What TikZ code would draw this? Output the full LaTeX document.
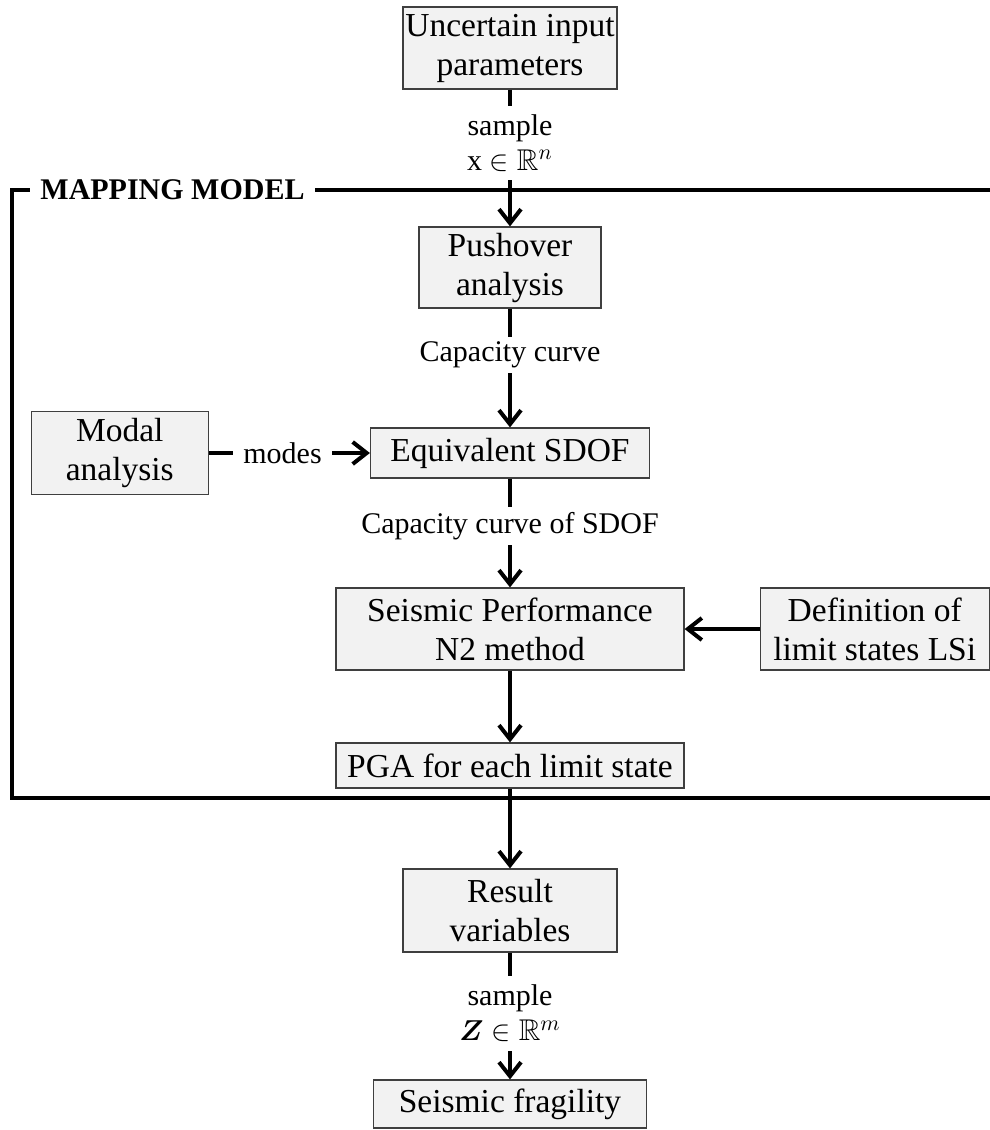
\documentclass[tikz,border=0pt]{standalone}
\usepackage{amsmath,amssymb,bm}
\usepackage{fontspec}
\setmainfont{Liberation Serif}
\definecolor{BoxFill}{HTML}{F2F2F2}
\definecolor{BoxLine}{HTML}{3F3F3F}
\usetikzlibrary{arrows.meta, positioning}
\tikzset{
  % Box styles
  stepbox/.style={rectangle, draw=BoxLine, line width=0.6pt, fill=BoxFill, inner sep=0pt, align=center, font=\fontsize{16.75}{19.5}\selectfont},
  % Label styles
  flowlabel/.style={inner sep=0pt, align=center, font=\fontsize{15}{17.5}\selectfont},
  titlelabel/.style={fill=white, inner xsep=5pt, inner ysep=0pt, font=\fontsize{15}{16}\selectfont\bfseries},
  % Arrow styles
  flowline/.style={line width=2pt, black},
  arrow/.style={flowline, -{Straight Barb[length=7pt, width=11pt]}},
  frameline/.style={line width=2pt, black}
}

\begin{document}
\begin{tikzpicture}[x=0.5pt, y=-0.5pt]
  \useasboundingbox (0,0) rectangle (990,1130);

  % Mapping model frame
  \draw[frameline] (995,190) -- (12,190) -- (12,798) -- (995,798);
  \node[titlelabel] (mmtitle) at (172.5,190) {MAPPING MODEL};

  % Process boxes
  \node[stepbox, minimum width=107pt, minimum height=41pt] (input) at (510,48) {Uncertain input\\parameters};
  \node[stepbox, minimum width=91pt, minimum height=40.5pt] (push) at (510,267.5) {Pushover\\analysis};
  \node[stepbox, minimum width=139.5pt, minimum height=25pt] (sdof) at (510,453) {Equivalent SDOF};
  \node[stepbox, minimum width=88.5pt, minimum height=41.5pt, left=80.5pt of sdof] (modal) {Modal\\analysis};
  \node[stepbox, minimum width=174pt, minimum height=41pt] (perf) at (510,629) {Seismic Performance\\N2 method};
  \node[stepbox, minimum width=114.5pt, minimum height=41pt, right=37.5pt of perf] (limits) {Definition of\\limit states LSi};
  \node[stepbox, minimum width=174pt, minimum height=22.5pt] (pga) at (510,765.5) {PGA for each limit state};
  \node[stepbox, minimum width=107pt, minimum height=41.5pt] (result) at (510,910.5) {Result\\variables};
  \node[stepbox, minimum width=136.5pt, minimum height=24pt] (fragility) at (510,1104) {Seismic fragility};

  % Connector labels
  \node[flowlabel, minimum height=37pt] (samplex) at (510,143) {sample\\x $\in \mathbb{R}^{n}$};
  \node[flowlabel, minimum height=18pt] (capcurve) at (510,355) {Capacity curve};
  \node[flowlabel, minimum width=49.5pt] (modes) at (282.5,453) {modes};
  \node[flowlabel, minimum height=19pt] (capsdof) at (510,526) {Capacity curve of SDOF};
  \node[flowlabel, minimum height=37.5pt] (samplez) at (510,1013.5) {sample\\$\bm{Z} \in \mathbb{R}^{m}$};

  % Connectors
  \draw[flowline] (input.south) -- (samplex.north);
  \draw[arrow] (samplex.south) -- (push.north);
  \draw[flowline] (push.south) -- (capcurve.north);
  \draw[arrow] (capcurve.south) -- (sdof.north);
  \draw[flowline] (modal.east) -- (modes.west);
  \draw[arrow] (modes.east) -- (sdof.west);
  \draw[flowline] (sdof.south) -- (capsdof.north);
  \draw[arrow] (capsdof.south) -- (perf.north);
  \draw[arrow] (limits.west) -- (perf.east);
  \draw[arrow] (perf.south) -- (pga.north);
  \draw[arrow] (pga.south) -- (result.north);
  \draw[flowline] (result.south) -- (samplez.north);
  \draw[arrow] (samplez.south) -- (fragility.north);
\end{tikzpicture}
\end{document}
